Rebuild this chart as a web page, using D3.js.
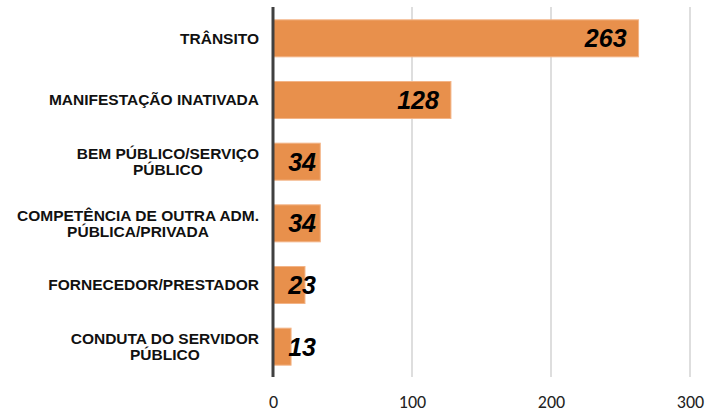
<!DOCTYPE html>
<html><head><meta charset="utf-8">
<script src="https://cdn.jsdelivr.net/npm/d3@7"></script>
<style>body{margin:0;background:#fff}</style>
</head><body>
<svg id="c" width="707" height="412"></svg>
<script>
const categories = [
  ["TRÂNSITO"],
  ["MANIFESTAÇÃO INATIVADA"],
  ["BEM PÚBLICO/SERVIÇO", "PÚBLICO"],
  ["COMPETÊNCIA DE OUTRA ADM.", "PÚBLICA/PRIVADA"],
  ["FORNECEDOR/PRESTADOR"],
  ["CONDUTA DO SERVIDOR", "PÚBLICO"]
];
const values = [263, 128, 34, 34, 23, 13];
const tickValues = [0, 100, 200, 300];

const svg = d3.select("#c");
const x = d3.scaleLinear().domain([0, 300]).range([273, 690]);
const y = d3.scaleBand().domain(d3.range(values.length)).range([7.5, 377.5]).paddingInner(0.4).paddingOuter(0.2);

// gridlines
svg.append("g").selectAll("line").data(tickValues.slice(1)).join("line")
  .attr("x1", d => x(d)).attr("x2", d => x(d))
  .attr("y1", 7).attr("y2", 377)
  .attr("stroke", "#c8c8c8").attr("stroke-width", 1.2);

// bars
svg.append("g").selectAll("rect").data(values).join("rect")
  .attr("x", x(0)).attr("y", (d, i) => y(i))
  .attr("width", d => x(d) - x(0)).attr("height", y.bandwidth())
  .attr("fill", "#E8904C").attr("stroke", "#F3B487").attr("stroke-width", 1);

// axis line
svg.append("line").attr("x1", x(0)).attr("x2", x(0)).attr("y1", 7).attr("y2", 377)
  .attr("stroke", "#404040").attr("stroke-width", 3);

// x ticks
const xAxis = d3.axisBottom(x).tickValues(tickValues).tickSize(0).tickPadding(0);
const gx = svg.append("g").attr("transform", "translate(0,395)").call(xAxis);
gx.select(".domain").remove();
gx.selectAll("text").attr("font-family", "Carlito, 'Liberation Sans', Arial, sans-serif")
  .attr("font-size", 18).attr("fill", "#222").attr("dy", "0.71em");

// category labels
const lab = svg.append("g").attr("font-family", "'Liberation Sans', Arial, sans-serif")
  .attr("font-weight", "bold").attr("font-size", 15.5).attr("fill", "#111");
categories.forEach((lines, i) => {
  const cy = y(i) + y.bandwidth() / 2;
  const g = lab.append("g");
  const lh = 16.5;
  const texts = lines.map((l, j) => g.append("text").text(l)
    .attr("y", cy + (j - (lines.length - 1) / 2) * lh).attr("dy", "0.35em"));
  const widths = texts.map(t => t.node().getComputedTextLength());
  const maxW = d3.max(widths);
  const rightEdge = 259;
  texts.forEach(t => t.attr("text-anchor", "middle").attr("x", rightEdge - maxW / 2));
});

// value labels
svg.append("g").selectAll("text").data(values).join("text")
  .attr("x", d => Math.max(x(d) - 12, 316))
  .attr("y", (d, i) => y(i) + y.bandwidth() / 2)
  .attr("dy", "0.36em").attr("text-anchor", "end")
  .attr("font-family", "'Liberation Sans', Arial, sans-serif")
  .attr("font-weight", "bold").attr("font-style", "italic").attr("font-size", 25)
  .attr("fill", "#000").text(d => d);
</script>
</body></html>
